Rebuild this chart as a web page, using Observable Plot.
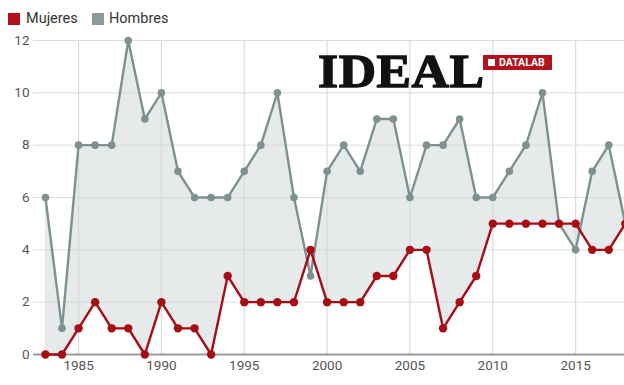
<!DOCTYPE html>
<html><head><meta charset="utf-8">
<script src="https://cdn.jsdelivr.net/npm/d3@7"></script>
<script src="https://cdn.jsdelivr.net/npm/@observablehq/plot@0.6"></script>
<style>
body{margin:0;background:#fff;font-family:Roboto,"Noto Sans",sans-serif;overflow:hidden}
#wrap{position:relative;width:624px;height:385px;overflow:hidden}
#legend{height:30px;position:relative;font-size:14.5px;color:#333}
.sw{position:absolute;top:13px;width:12px;height:12px}
.lt{position:absolute;top:10px;line-height:18px}
#chart svg{display:block;overflow:visible}
#logo{position:absolute;left:318px;top:49px;height:44px}
#ideal{position:absolute;left:0;top:0;font-family:"Liberation Serif","DejaVu Serif",serif;font-weight:bold;font-size:47px;line-height:44px;color:#111;letter-spacing:0.5px;transform:scaleX(1.1);transform-origin:left top;white-space:nowrap;-webkit-text-stroke:1.3px #111}
#dl{position:absolute;left:165px;top:6px;width:69px;height:15px;background:#b3121b;color:#fff;font-family:Roboto,sans-serif;font-weight:bold;font-size:10.5px;line-height:15px;white-space:nowrap}
#dl span.sq{position:absolute;left:5px;top:4px;width:7px;height:7px;background:#fff}
#dl span.tx{position:absolute;left:16px;top:0}
</style></head><body>
<div id="wrap">
  <div id="legend">
    <div class="sw" style="left:8px;background:#b3101a"></div><div class="lt" style="left:26px">Mujeres</div>
    <div class="sw" style="left:92px;background:#8c9c9c"></div><div class="lt" style="left:109px">Hombres</div>
  </div>
  <div id="chart"></div>
  <div id="logo"><div id="ideal">IDEAL</div><div id="dl"><span class="sq"></span><span class="tx">DATALAB</span></div></div>
</div>
<script>
const years    = [1983,1984,1985,1986,1987,1988,1989,1990,1991,1992,1993,1994,1995,1996,1997,1998,1999,2000,2001,2002,2003,2004,2005,2006,2007,2008,2009,2010,2011,2012,2013,2014,2015,2016,2017,2018];
const hombres  = [6,1,8,8,8,12,9,10,7,6,6,6,7,8,10,6,3,7,8,7,9,9,6,8,8,9,6,6,7,8,10,5,4,7,8,5];
const mujeres  = [0,0,1,2,1,1,0,2,1,1,0,3,2,2,2,2,4,2,2,2,3,3,4,4,1,2,3,5,5,5,5,5,5,4,4,5];
const xTicks   = [1985,1990,1995,2000,2005,2010,2015];
const yTicks   = [0,2,4,6,8,10,12];

const data = years.map((y,i)=>({year:y, h:hombres[i], m:mujeres[i]}));
const red = "#a70d14", grey = "#7d9191";

const chart = Plot.plot({
  width:624, height:355,
  marginLeft:33, marginRight:0, marginTop:10, marginBottom:31,
  style:{fontFamily:"Roboto, sans-serif", fontSize:"13.5px", color:"#555", background:"#fff", overflow:"visible"},
  x:{domain:[1982.28,2017.95], label:null},
  y:{domain:[0,12], label:null},
  marks:[
    Plot.gridY(yTicks,{stroke:"#dcdcdc", strokeOpacity:1, strokeWidth:1}),
    Plot.gridX(xTicks,{stroke:"#dcdcdc", strokeOpacity:1, strokeWidth:1.2}),
    Plot.areaY(data,{x:"year", y1:"m", y2:"h", fill:"#d3d9d9", fillOpacity:0.55}),
    Plot.ruleY([0],{stroke:"#9a9a9a", strokeWidth:2}),
    Plot.axisY(yTicks,{tickSize:0, tickPadding:4, fill:"#555", fontSize:13.5}),
    Plot.axisX(xTicks,{tickSize:0, tickPadding:6, fill:"#555", fontSize:13.5, tickFormat:d=>String(d)}),
    Plot.line(data,{x:"year", y:"h", stroke:grey, strokeWidth:2.4}),
    Plot.dot(data,{x:"year", y:"h", r:3.8, fill:grey, stroke:"none"}),
    Plot.line(data,{x:"year", y:"m", stroke:red, strokeWidth:2.4}),
    Plot.dot(data,{x:"year", y:"m", r:4.2, fill:red, stroke:"none"})
  ]
});
document.getElementById("chart").appendChild(chart);
</script>
</body></html>
